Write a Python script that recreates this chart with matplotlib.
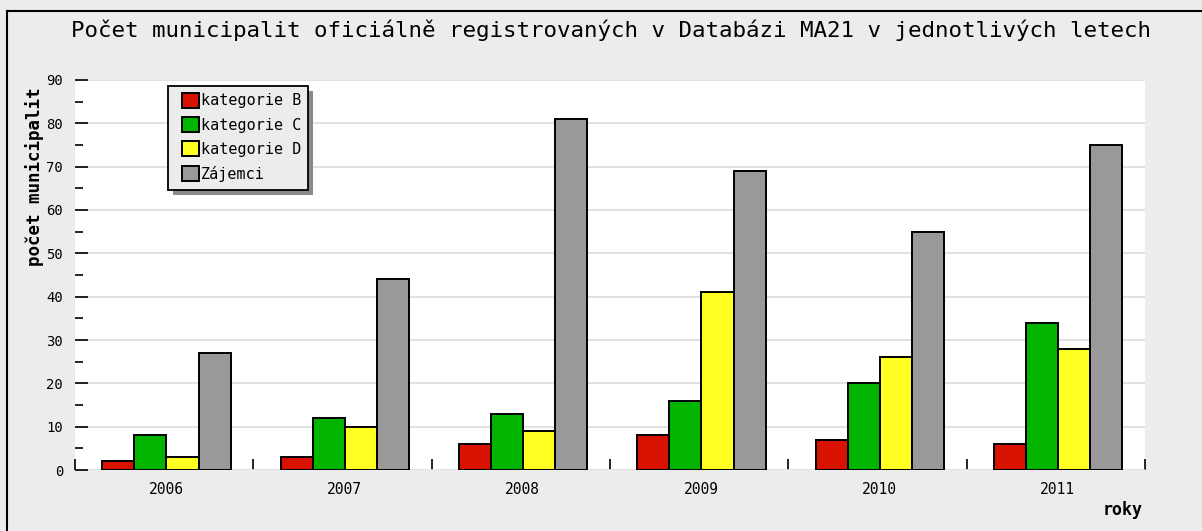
import matplotlib
matplotlib.use("Agg")
import matplotlib.pyplot as plt
from matplotlib.lines import Line2D
from matplotlib.patches import Rectangle
import numpy as np

years = ["2006", "2007", "2008", "2009", "2010", "2011"]
series_names = ["kategorie B", "kategorie C", "kategorie D", "Zájemci"]
kat_b = [2, 3, 6, 8, 7, 6]
kat_c = [8, 12, 13, 16, 20, 34]
kat_d = [3, 10, 9, 41, 26, 28]
zajemci = [27, 44, 81, 69, 55, 75]
colors = ["#d81200", "#00b400", "#ffff22", "#999999"]

title = "Počet municipalit oficiálně registrovaných v Databázi MA21 v jednotlivých letech"
ylabel = "počet municipalit"
xlabel = "roky"

plt.rcParams['font.family'] = ['DejaVu Sans Mono']

W, H = 1202, 531
fig = plt.figure(figsize=(W / 100, H / 100), dpi=100)
fig.patch.set_facecolor("#ececec")

# outer frame (left and top edge visible)
fig.add_artist(Line2D([7 / W, 7 / W], [0, 1 - 11 / H], transform=fig.transFigure,
                      color="black", lw=1.5))
fig.add_artist(Line2D([7 / W, 1], [1 - 11 / H, 1 - 11 / H], transform=fig.transFigure,
                      color="black", lw=1.5))

left, right, top, bottom = 75, 1145, 80, 470
ax = fig.add_axes([left / W, 1 - bottom / H, (right - left) / W, (bottom - top) / H])
ax.set_facecolor("white")
for s in ax.spines.values():
    s.set_visible(False)

x = np.arange(len(years))
bw = 0.18
data = [kat_b, kat_c, kat_d, zajemci]
handles = []
for k, (vals, name, c) in enumerate(zip(data, series_names, colors)):
    b = ax.bar(x + (k - 1.5) * bw + 0.013, vals, width=bw, color=c, edgecolor="black",
               linewidth=1.4, label=name, zorder=3)
    handles.append(b)

ax.set_xlim(-0.5, len(years) - 0.5)
ax.set_ylim(0, 90)
ax.set_yticks(np.arange(0, 91, 10))
ax.set_yticks(np.arange(5, 90, 10), minor=True)
ax.yaxis.grid(True, which="major", color="#dcdcdc", lw=1.2, zorder=0)
ax.tick_params(axis="y", which="major", direction="in", length=9, width=1.2,
               labelsize=10, pad=8.5, colors="black")
ax.tick_params(axis="y", which="minor", direction="in", length=6, width=1.2)

ax.set_xticks(x + 0.01)
ax.set_xticklabels(years)
ax.set_xticks(np.arange(-0.5, len(years), 1.0), minor=True)
ax.tick_params(axis="x", which="major", length=0, labelsize=10.5, pad=9)
ax.tick_params(axis="x", which="minor", direction="in", length=8, width=1.2)

fig.text(0.508, 1 - 30 / H, title, ha="center", va="center", fontsize=16.2)
fig.text(35 / W, 1 - 88 / H, ylabel, rotation=90, ha="center", va="top",
         fontsize=12.6, fontweight="bold")
fig.text(1143 / W, 1 - 510 / H, xlabel, ha="right", va="center",
         fontsize=12, fontweight="bold")

# legend box with shadow (pixel positions converted to axes fraction)
def ax_frac(px, py):
    return (px - left) / (right - left), (bottom - py) / (bottom - top)

bx0, by0 = ax_frac(168, 190)
bx1, by1 = ax_frac(308, 86)
sx0, sy0 = ax_frac(173, 195)
ax.add_patch(Rectangle((sx0, sy0), bx1 - bx0, by1 - by0, transform=ax.transAxes,
                       facecolor="#8a8a8a", edgecolor="none", zorder=4, clip_on=False))
ax.add_patch(Rectangle((bx0, by0), bx1 - bx0, by1 - by0, transform=ax.transAxes,
                       facecolor="#ececec", edgecolor="black", lw=1.3, zorder=4.5,
                       clip_on=False))

leg = ax.legend(handles=handles, labels=series_names, loc="upper left",
                bbox_to_anchor=ax_frac(182, 93),
                borderaxespad=0, borderpad=0, frameon=False,
                fontsize=10.9, handlelength=1.1, handleheight=1.1,
                handletextpad=0.15, labelspacing=0.58)
leg.set_zorder(6)

fig.savefig("out.png", dpi=100, facecolor=fig.get_facecolor())
